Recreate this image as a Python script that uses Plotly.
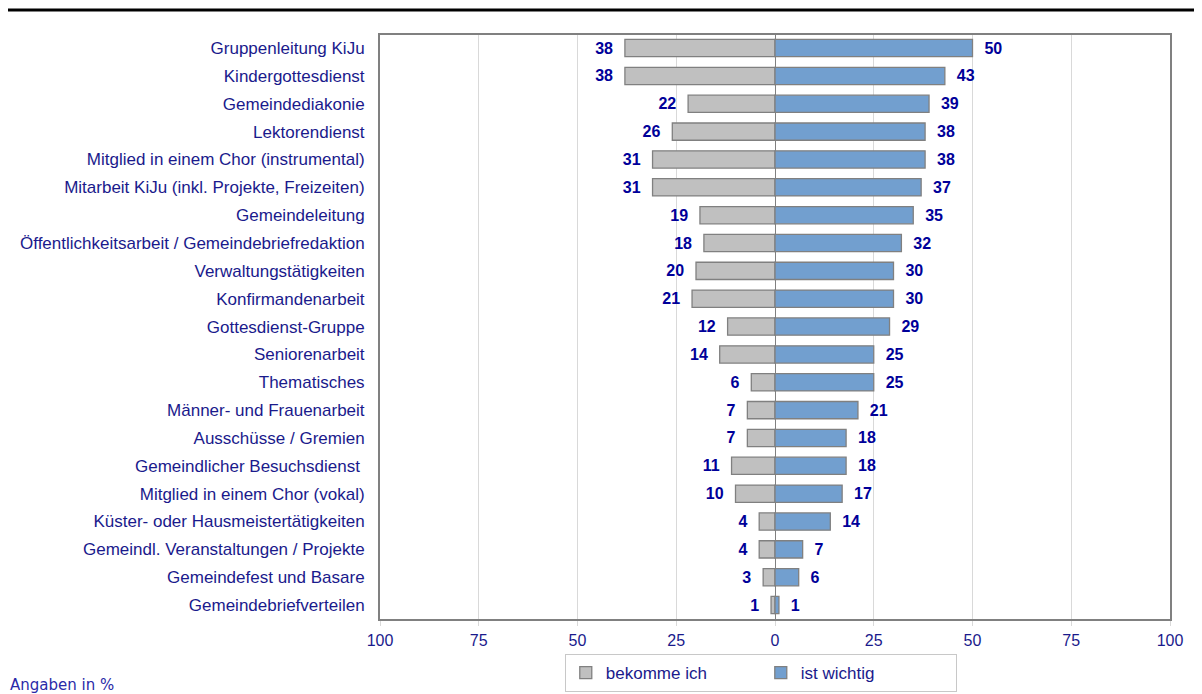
import plotly.graph_objects as go

categories = [
    "Gruppenleitung KiJu",
    "Kindergottesdienst",
    "Gemeindediakonie",
    "Lektorendienst",
    "Mitglied in einem Chor (instrumental)",
    "Mitarbeit KiJu (inkl. Projekte, Freizeiten)",
    "Gemeindeleitung",
    "Öffentlichkeitsarbeit / Gemeindebriefredaktion",
    "Verwaltungstätigkeiten",
    "Konfirmandenarbeit",
    "Gottesdienst-Gruppe",
    "Seniorenarbeit",
    "Thematisches",
    "Männer- und Frauenarbeit",
    "Ausschüsse / Gremien",
    "Gemeindlicher Besuchsdienst ",
    "Mitglied in einem Chor (vokal)",
    "Küster- oder Hausmeistertätigkeiten",
    "Gemeindl. Veranstaltungen / Projekte",
    "Gemeindefest und Basare",
    "Gemeindebriefverteilen",
]
bekomme_ich = [38, 38, 22, 26, 31, 31, 19, 18, 20, 21, 12, 14, 6, 7, 7, 11, 10, 4, 4, 3, 1]
ist_wichtig = [50, 43, 39, 38, 38, 37, 35, 32, 30, 30, 29, 25, 25, 21, 18, 18, 17, 14, 7, 6, 1]
tick_vals = [-100, -75, -50, -25, 0, 25, 50, 75, 100]
tick_text = ["100", "75", "50", "25", "0", "25", "50", "75", "100"]

navy = "#1a1a8c"
label_navy = "#000099"
font = "Liberation Sans, Arial, sans-serif"
pad = "\u00a0\u00a0"

fig = go.Figure()
fig.add_trace(go.Bar(
    y=categories,
    x=[-v for v in bekomme_ich],
    orientation="h",
    name="bekomme ich",
    marker=dict(color="#c0c0c0", line=dict(color="#808080", width=1.3)),
    text=[str(v) + pad for v in bekomme_ich],
    textposition="outside",
    textfont=dict(family=font, size=16, color=label_navy, weight="bold"),
    cliponaxis=False,
    width=0.62,
))
fig.add_trace(go.Bar(
    y=categories,
    x=ist_wichtig,
    orientation="h",
    name="ist wichtig",
    marker=dict(color="#729fcf", line=dict(color="#808080", width=1.3)),
    text=[pad + str(v) for v in ist_wichtig],
    textposition="outside",
    textfont=dict(family=font, size=16, color=label_navy, weight="bold"),
    cliponaxis=False,
    width=0.62,
))

fig.update_layout(
    width=1194,
    height=686,
    barmode="overlay",
    plot_bgcolor="white",
    paper_bgcolor="white",
    margin=dict(l=372, r=32, t=27, b=75, autoexpand=False),
    font=dict(family=font, size=16, color=navy),
    showlegend=True,
    legend=dict(
        orientation="h",
        x=0.482, xanchor="center",
        yref="container",
        y=40 / 686, yanchor="top",
        bordercolor="#c8c8c8", borderwidth=1,
        font=dict(size=17, color=navy),
        itemwidth=30,
        entrywidth=150,
    ),
    xaxis=dict(
        range=[-100, 100],
        tickvals=tick_vals,
        ticktext=tick_text,
        showgrid=True,
        gridcolor="#d9d9d9",
        zeroline=True,
        zerolinecolor="#808080",
        zerolinewidth=1,
        showline=True,
        linecolor="#808080",
        linewidth=2,
        mirror=True,
        ticks="outside",
        ticklen=5,
        tickcolor="#d9d9d9",
        ticklabelstandoff=1,
        automargin=False,
        tickfont=dict(size=16, color=navy),
    ),
    yaxis=dict(
        range=[20.5, -0.47],
        showgrid=False,
        showline=True,
        linecolor="#808080",
        linewidth=2,
        mirror=True,
        ticks="",
        ticklabelstandoff=10,
        automargin=False,
        tickfont=dict(size=17, color=navy),
    ),
    shapes=[dict(
        type="line", xref="paper", yref="paper",
        x0=-372 / 790, x1=(1194 - 372) / 790,
        y0=1 + 25 / 584, y1=1 + 25 / 584,
        line=dict(color="black", width=3),
    )],
    annotations=[dict(
        text="Angaben in %", xref="paper", yref="paper",
        x=-372 / 790, y=-(677 - 611) / 584,
        xanchor="left", yanchor="middle", showarrow=False,
        font=dict(family="DejaVu Sans, Verdana, sans-serif", size=15, color="#2a2aa8"),
    )],
)

fig.write_html("out.html")
